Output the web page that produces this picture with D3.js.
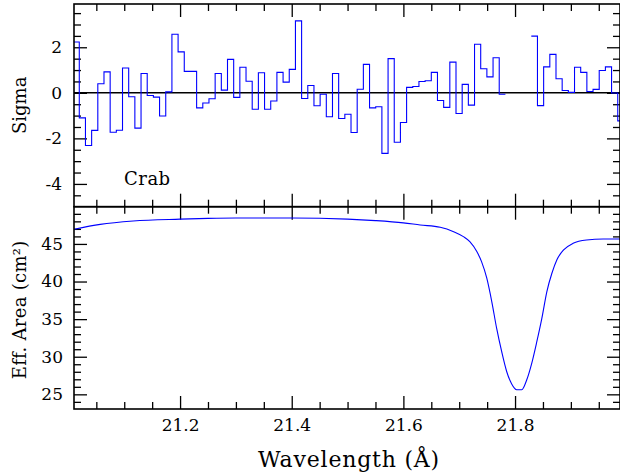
<!DOCTYPE html>
<html>
<head>
<meta charset="utf-8">
<script src="https://cdn.jsdelivr.net/npm/d3@7"></script>
<style>
  body { margin: 0; background: #fff; }
  text { font-family: "DejaVu Serif", serif; fill: #000; }
</style>
</head>
<body>
<svg id="chart"></svg>
<script>
var width = 620,
    height = 473,
    left = 74,
    right = 620,
    top1 = 4,
    mid = 206.7,
    bottom = 409;

// significance histogram, first run of bins (start wavelength, bin width)
var sigStart1 = 21.0084,
    sigStart2 = 21.8291,
    binWidth = 0.011062;

var sigma1 = [2.23, -1.10, -2.31, -1.65, 0.40, 0.92, -1.73, -1.64, 1.09, -0.17,
              -1.55, 0.85, -0.12, -0.19, -1.02, 0.04, 2.57, 1.80, 0.94, 0.94,
              -0.66, -0.45, -0.26, 0.85, 0.12, 1.47, -0.20, 1.12, 0.51, -0.72,
              0.88, -0.72, -0.36, 0.90, 0.47, 1.03, 3.16, -0.25, 0.32, -0.57,
              -0.06, -1.05, 0.85, -1.13, -0.94, -1.74, 0.16, 1.25, -0.66, -0.61,
              -2.66, 1.50, -2.17, -1.30, 0.24, 0.28, 0.50, 0.53, 0.90, -0.34,
              -0.64, 1.35, -0.91, 0.37, -0.54, 2.13, 1.06, 0.70, 1.54, -0.06];

var sigma2 = [2.49, -0.56, 1.14, 1.69, 0.62, 0.10, 0.02, 1.12, 0.90, 0.06,
              0.15, 0.98, 1.14, -0.01, -1.23];

// effective area curve
var areaWave = [21.010, 21.057, 21.116, 21.200, 21.250, 21.300, 21.400, 21.500, 21.550, 21.600,
                21.630, 21.666, 21.690, 21.7075, 21.719, 21.7315, 21.740, 21.7494, 21.7583, 21.767,
                21.776, 21.785, 21.794, 21.803, 21.812, 21.821, 21.830, 21.839, 21.848, 21.857,
                21.866, 21.875, 21.887, 21.904, 21.928, 21.958, 21.988];
var areaVal = [46.95, 47.60, 48.05, 48.30, 48.40, 48.45, 48.45, 48.30, 48.10, 47.80,
               47.52, 47.22, 46.63, 45.97, 45.30, 43.98, 42.65, 40.44, 37.34, 33.80,
               30.70, 28.04, 26.37, 25.61, 25.61, 26.94, 29.16, 32.00, 35.10, 38.67,
               41.10, 42.90, 44.20, 45.09, 45.53, 45.66, 45.66];

var xMajor = [21.2, 21.4, 21.6, 21.8],
    sigMajor = [-4, -2, 0, 2],
    areaMajor = [25, 30, 35, 40, 45];

var svg = d3.select("#chart").attr("width", width).attr("height", height);

var x = d3.scaleLinear().domain([21.01, 21.988]).range([left, right]),
    ySig = d3.scaleLinear().domain([-5, 3.9]).range([mid, top1]),
    yArea = d3.scaleLinear().domain([23.05, 49.95]).range([bottom, mid]);

var xMinor = d3.range(21.05, 21.99, 0.05).map(d => +d.toFixed(2)).filter(d => xMajor.indexOf(d) < 0),
    sigMinor = d3.range(-4.5, 3.9, 0.5).filter(d => sigMajor.indexOf(d) < 0),
    areaMinor = d3.range(24, 50, 1).filter(d => areaMajor.indexOf(d) < 0);

svg.append("clipPath").attr("id", "clip1")
    .append("rect").attr("x", left).attr("y", top1).attr("width", right - left).attr("height", mid - top1);
svg.append("clipPath").attr("id", "clip2")
    .append("rect").attr("x", left).attr("y", mid).attr("width", right - left).attr("height", bottom - mid);

function ticks(axis, scale, vals, size, tx, ty) {
    svg.append("g")
        .attr("transform", "translate(" + tx + "," + ty + ")")
        .call(axis(scale).tickValues(vals).tickSize(size).tickFormat(""))
        .call(g => g.select(".domain").remove())
        .selectAll("line").attr("stroke", "#000").attr("stroke-width", 1.3);
}

// top panel ticks
ticks(d3.axisLeft, ySig, sigMajor, -13, left, 0);
ticks(d3.axisLeft, ySig, sigMinor, -7, left, 0);
ticks(d3.axisRight, ySig, sigMajor, -13, right, 0);
ticks(d3.axisRight, ySig, sigMinor, -7, right, 0);
ticks(d3.axisTop, x, xMajor, -13, 0, top1);
ticks(d3.axisTop, x, xMinor, -7, 0, top1);
ticks(d3.axisBottom, x, xMajor, -13, 0, mid);
ticks(d3.axisBottom, x, xMinor, -7, 0, mid);
// bottom panel ticks
ticks(d3.axisLeft, yArea, areaMajor, -13, left, 0);
ticks(d3.axisLeft, yArea, areaMinor, -7, left, 0);
ticks(d3.axisRight, yArea, areaMajor, -13, right, 0);
ticks(d3.axisRight, yArea, areaMinor, -7, right, 0);
ticks(d3.axisTop, x, xMajor, -13, 0, mid);
ticks(d3.axisTop, x, xMinor, -7, 0, mid);
ticks(d3.axisBottom, x, xMajor, -13, 0, bottom);
ticks(d3.axisBottom, x, xMinor, -7, 0, bottom);

// tick labels
function labels(axis, scale, vals, pad, tx, ty) {
    svg.append("g")
        .attr("transform", "translate(" + tx + "," + ty + ")")
        .call(axis(scale).tickValues(vals).tickSize(0).tickPadding(pad).tickFormat(d => String(d)))
        .call(g => g.select(".domain").remove())
        .selectAll("text")
        .style("font-family", "'DejaVu Serif', serif")
        .style("font-size", "17px")
        .attr("fill", "#000");
}
labels(d3.axisLeft, ySig, sigMajor, 12, left, 0);
labels(d3.axisLeft, yArea, areaMajor, 11, left, 0);
labels(d3.axisBottom, x, xMajor, 10, 0, bottom);

// zero line
svg.append("line")
    .attr("x1", left).attr("x2", right)
    .attr("y1", ySig(0)).attr("y2", ySig(0))
    .attr("stroke", "#000").attr("stroke-width", 1.5);

// histogram
var step = d3.line()
    .x(d => x(d.w))
    .y(d => ySig(d.v))
    .curve(d3.curveStepAfter);

function binPoints(start, vals) {
    var pts = vals.map((v, i) => ({w: start + i * binWidth, v: v}));
    pts.push({w: start + vals.length * binWidth, v: vals[vals.length - 1]});
    return pts;
}

[[sigStart1, sigma1], [sigStart2, sigma2]].forEach(function(s) {
    svg.append("path")
        .attr("clip-path", "url(#clip1)")
        .attr("d", step(binPoints(s[0], s[1])))
        .attr("fill", "none")
        .attr("stroke", "#0000ff")
        .attr("stroke-width", 1.1);
});

// effective area
var areaLine = d3.line()
    .x((d, i) => x(areaWave[i]))
    .y(d => yArea(d))
    .curve(d3.curveMonotoneX);

svg.append("path")
    .attr("clip-path", "url(#clip2)")
    .attr("d", areaLine(areaVal))
    .attr("fill", "none")
    .attr("stroke", "#0000ff")
    .attr("stroke-width", 1.1);

// frames
[[top1, mid], [mid, bottom]].forEach(function(p) {
    svg.append("rect")
        .attr("x", left).attr("y", p[0])
        .attr("width", right - left).attr("height", p[1] - p[0])
        .attr("fill", "none")
        .attr("stroke", "#000")
        .attr("stroke-width", 1.6);
});

// texts
svg.append("text")
    .attr("x", 124).attr("y", 185)
    .style("font-size", "18px")
    .attr("letter-spacing", "0.5px")
    .text("Crab");

svg.append("text")
    .attr("transform", "translate(26," + (top1 + mid) / 2 + ") rotate(-90)")
    .attr("text-anchor", "middle")
    .style("font-size", "18px")
    .text("Sigma");

svg.append("text")
    .attr("transform", "translate(26," + ((mid + bottom) / 2 + 2) + ") rotate(-90)")
    .attr("text-anchor", "middle")
    .style("font-size", "18px")
    .attr("letter-spacing", "0.3px")
    .text("Eff. Area (cm²)");

svg.append("text")
    .attr("x", (left + right) / 2 + 2).attr("y", 467)
    .attr("text-anchor", "middle")
    .style("font-size", "22px")
    .attr("letter-spacing", "0.8px")
    .text("Wavelength (Å)");
</script>
</body>
</html>
